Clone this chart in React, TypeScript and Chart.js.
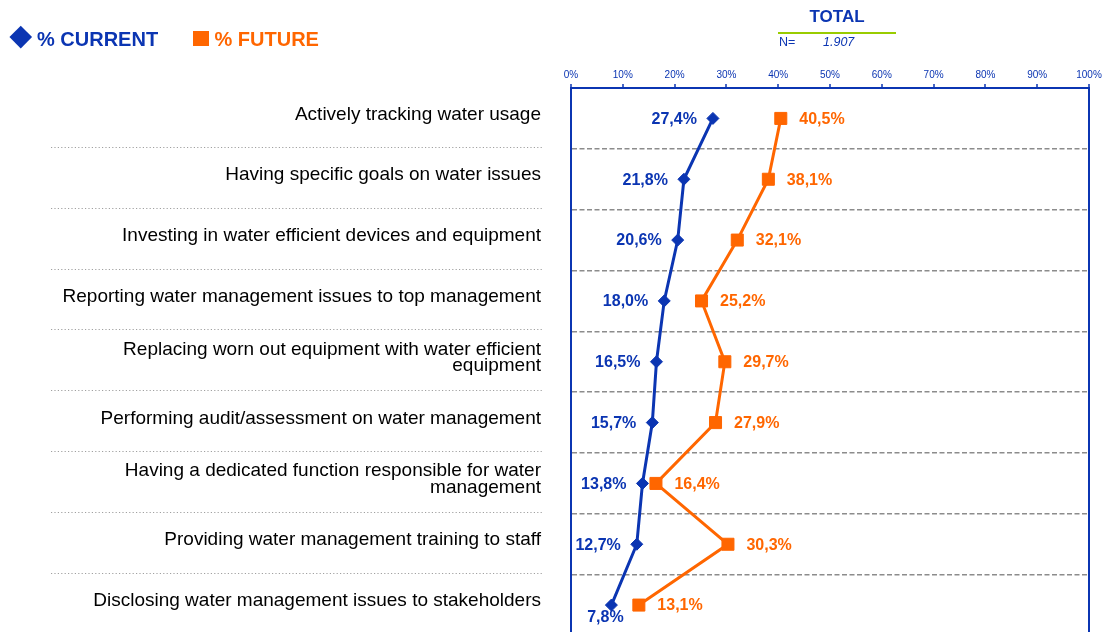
import React, { useEffect, useRef } from 'react';
import { Chart, registerables } from 'chart.js';

Chart.register(...registerables);

const FONT = '"Liberation Sans", Arial, Helvetica, sans-serif';
const BLUE = '#0B35B2';
const ORANGE = '#FF6600';
const GRID_GREY = '#8C8C8C';

const categories: (string | string[])[] = [
  'Actively tracking water usage',
  'Having specific goals on water issues',
  'Investing in water efficient devices and equipment',
  'Reporting water management issues to top management',
  ['Replacing worn out equipment with water efficient', 'equipment'],
  'Performing audit/assessment on water management',
  ['Having a dedicated function responsible for water', 'management'],
  'Providing water management training to staff',
  'Disclosing water management issues to stakeholders',
];

const currentValues = [27.4, 21.8, 20.6, 18.0, 16.5, 15.7, 13.8, 12.7, 7.8];
const futureValues = [40.5, 38.1, 32.1, 25.2, 29.7, 27.9, 16.4, 30.3, 13.1];

const seriesNames = ['% CURRENT', '% FUTURE'];
const headerTitle = 'TOTAL';
const sampleLabel = 'N=';
const sampleSize = '1.907';

const xMin = 0;
const xMax = 100;
const xStep = 10;

const fmt = (v: number) => v.toFixed(1).replace('.', ',') + '%';

const valueLabelsPlugin = {
  id: 'valueLabels',
  afterDatasetsDraw(chart: any) {
    const ctx = chart.ctx as CanvasRenderingContext2D;
    chart.data.datasets.forEach((ds: any, di: number) => {
      const meta = chart.getDatasetMeta(di);
      const n = meta.data.length;
      meta.data.forEach((pt: any, i: number) => {
        const text = fmt(ds.data[i]);
        ctx.save();
        ctx.font = `bold 16px ${FONT}`;
        ctx.fillStyle = ds.borderColor;
        ctx.textBaseline = 'middle';
        let x = pt.x;
        let y = pt.y + 1;
        if (di === 0) {
          if (i === n - 1) {
            ctx.textAlign = 'center';
            x = pt.x - 6;
            y = pt.y + 13;
          } else {
            ctx.textAlign = 'right';
            x = pt.x - 16;
          }
        } else {
          ctx.textAlign = 'left';
          x = pt.x + 18.5;
        }
        ctx.fillText(text, x, y);
        ctx.restore();
      });
    });
  },
};

const separatorPlugin = {
  id: 'labelSeparators',
  afterDraw(chart: any) {
    const ctx = chart.ctx as CanvasRenderingContext2D;
    const ys = chart.scales.y;
    const count = chart.data.labels.length;
    ctx.save();
    ctx.strokeStyle = '#A0A0A0';
    ctx.lineWidth = 1;
    ctx.setLineDash([1.2, 2.2]);
    for (let i = 1; i < count; i++) {
      const y = Math.round((ys.getPixelForValue(i - 1) + ys.getPixelForValue(i)) / 2) - 1.5;
      ctx.beginPath();
      ctx.moveTo(51, y);
      ctx.lineTo(542, y);
      ctx.stroke();
    }
    ctx.restore();
  },
};

export default function App() {
  const ref = useRef<HTMLCanvasElement>(null);

  useEffect(() => {
    if (!ref.current) return;
    const chart = new Chart(ref.current, {
      type: 'line',
      data: {
        labels: categories as any,
        datasets: [
          {
            label: seriesNames[0],
            data: currentValues,
            borderColor: BLUE,
            backgroundColor: BLUE,
            borderWidth: 3,
            pointStyle: 'rectRot',
            pointRadius: 6,
            pointBorderWidth: 1,
            pointBackgroundColor: BLUE,
            pointBorderColor: BLUE,
            tension: 0,
          },
          {
            label: seriesNames[1],
            data: futureValues,
            borderColor: ORANGE,
            backgroundColor: ORANGE,
            borderWidth: 3,
            pointStyle: 'rect',
            pointRadius: 8.5,
            pointBorderWidth: 1,
            pointBackgroundColor: ORANGE,
            pointBorderColor: ORANGE,
            tension: 0,
          },
        ],
      },
      options: {
        indexAxis: 'y',
        responsive: false,
        animation: false,
        devicePixelRatio: 1,
        events: [],
        layout: { autoPadding: false, padding: { left: 0, right: 16, top: 0, bottom: 4.5 } },
        plugins: {
          legend: { display: false },
          tooltip: { enabled: false },
          title: { display: false },
        },
        scales: {
          x: {
            type: 'linear',
            position: 'top',
            min: xMin,
            max: xMax,
            ticks: {
              stepSize: xStep,
              callback: (v: any) => `${v}%`,
              font: { family: FONT, size: 10 },
              color: BLUE,
              padding: 3,
              maxRotation: 0,
              autoSkip: false,
            },
            grid: {
              display: true,
              drawOnChartArea: true,
              color: (c: any) => (c.index === 10 ? BLUE : 'rgba(0,0,0,0)'),
              lineWidth: 2,
              drawTicks: true,
              tickLength: 4,
              tickColor: BLUE,
              tickWidth: 1.5,
            },
            border: { display: true, color: BLUE, width: 2 },
            afterFit: (s: any) => {
              s.height = 88;
              s.paddingLeft = 0;
              s.paddingRight = 0;
            },
          },
          y: {
            type: 'category',
            offset: true,
            ticks: {
              font: { family: FONT, size: 19, lineHeight: 0.88 },
              color: '#000000',
              padding: 0,
              autoSkip: false,
              labelOffset: -4,
            },
            grid: {
              display: true,
              offset: true,
              drawOnChartArea: true,
              color: (c: any) =>
                c.index === undefined || c.index === 0 ? 'rgba(0,0,0,0)' : GRID_GREY,
              lineWidth: 1.5,
              drawTicks: true,
              tickLength: 30,
              tickColor: 'rgba(0,0,0,0)',
            },
            border: { display: true, color: BLUE, width: 2, dash: [5, 2.5] },
            afterFit: (s: any) => {
              s.width = 571;
              s.paddingTop = 0;
              s.paddingBottom = 0;
            },
          },
        },
      } as any,
      plugins: [valueLabelsPlugin, separatorPlugin],
    });
    return () => chart.destroy();
  }, []);

  const capTop = (center: number, size: number) => center - size * 0.4885;

  return (
    <div
      style={{
        position: 'fixed',
        left: 0,
        top: 0,
        width: 1105,
        height: 632,
        overflow: 'hidden',
        background: '#ffffff',
        fontFamily: FONT,
      }}
    >
      <canvas
        ref={ref}
        width={1105}
        height={640}
        style={{ position: 'absolute', left: 0, top: 0, width: 1105, height: 640 }}
      />
      {/* legend */}
      <div
        style={{
          position: 'absolute',
          left: 13.25,
          top: 29.25,
          width: 15.5,
          height: 15.5,
          background: BLUE,
          transform: 'rotate(45deg)',
        }}
      />
      <div
        style={{
          position: 'absolute',
          left: 37,
          top: capTop(38.3, 20),
          fontSize: 20,
          lineHeight: '20px',
          fontWeight: 'bold',
          color: BLUE,
          whiteSpace: 'nowrap',
        }}
      >
        {seriesNames[0]}
      </div>
      <div
        style={{
          position: 'absolute',
          left: 193,
          top: 30.5,
          width: 15.5,
          height: 15.5,
          background: ORANGE,
        }}
      />
      <div
        style={{
          position: 'absolute',
          left: 214.5,
          top: capTop(38.3, 20),
          fontSize: 20,
          lineHeight: '20px',
          fontWeight: 'bold',
          color: ORANGE,
          whiteSpace: 'nowrap',
        }}
      >
        {seriesNames[1]}
      </div>
      {/* header */}
      <div
        style={{
          position: 'absolute',
          left: 778,
          width: 118,
          top: capTop(16, 17),
          fontSize: 17,
          lineHeight: '17px',
          fontWeight: 'bold',
          color: BLUE,
          textAlign: 'center',
          whiteSpace: 'nowrap',
        }}
      >
        {headerTitle}
      </div>
      <div
        style={{
          position: 'absolute',
          left: 778,
          top: 31.5,
          width: 118,
          height: 2,
          background: '#99CC00',
        }}
      />
      <div
        style={{
          position: 'absolute',
          left: 779,
          top: capTop(42.5, 12.5),
          fontSize: 12.5,
          lineHeight: '12.5px',
          color: BLUE,
          whiteSpace: 'nowrap',
        }}
      >
        {sampleLabel}
      </div>
      <div
        style={{
          position: 'absolute',
          left: 823,
          top: capTop(42.5, 12.5),
          fontSize: 12.5,
          lineHeight: '12.5px',
          fontStyle: 'italic',
          color: BLUE,
          whiteSpace: 'nowrap',
        }}
      >
        {sampleSize}
      </div>
    </div>
  );
}
